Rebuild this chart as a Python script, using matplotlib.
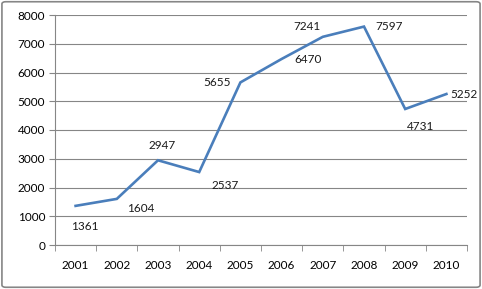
import matplotlib.pyplot as plt
from matplotlib.patches import FancyBboxPatch

years = ['2001', '2002', '2003', '2004', '2005', '2006', '2007', '2008', '2009', '2010']
values = [1361, 1604, 2947, 2537, 5655, 6470, 7241, 7597, 4731, 5252]
# label offsets in pixels (dx, dy)
offsets = [(9, -21), (24, -10), (4, 15), (26, -13), (-23, 0),
           (26, -1), (-16, 10), (25, 0), (15, -18), (18, 0)]

plt.rcParams['font.family'] = ['Lato', 'DejaVu Sans']
fig = plt.figure(figsize=(4.82, 2.89), dpi=100)
ax = fig.add_axes([55 / 482, 1 - 245 / 289, 412 / 482, 230 / 289])

x = list(range(1, len(years) + 1))
ax.plot(x, values, color='#4A7EBB', linewidth=1.9, solid_joinstyle='miter')

for xi, v, (dx, dy) in zip(x, values, offsets):
    ax.annotate(str(v), (xi, v), xytext=(dx, dy), textcoords='offset pixels',
                ha='center', va='center', fontsize=8.5, color='#1a1a1a')

ax.set_xlim(0.5, len(years) + 0.5)
ax.set_ylim(0, 8000)
ax.set_yticks(range(0, 8001, 1000))
ax.set_xticks(x)
ax.set_xticklabels(years)
ax.set_xticks([i + 0.5 for i in range(0, len(years) + 1)], minor=True)
ax.tick_params(axis='x', which='major', length=0, pad=11, labelsize=8.5)
ax.tick_params(axis='x', which='minor', length=4, color='#868686')
ax.tick_params(axis='y', length=4, color='#868686', labelsize=8.5, pad=3)
ax.grid(axis='y', color='#868686', linewidth=0.8)
ax.set_axisbelow(True)
for s in ['top', 'right']:
    ax.spines[s].set_visible(False)
for s in ['left', 'bottom']:
    ax.spines[s].set_color('#868686')
    ax.spines[s].set_linewidth(0.8)

border = FancyBboxPatch((0.004, 0.006), 0.992, 0.988, boxstyle='round,pad=0,rounding_size=0.008',
                        transform=fig.transFigure, fill=False, edgecolor='#868686', linewidth=1.2)
fig.patches.append(border)

fig.savefig('out.png', dpi=100)
